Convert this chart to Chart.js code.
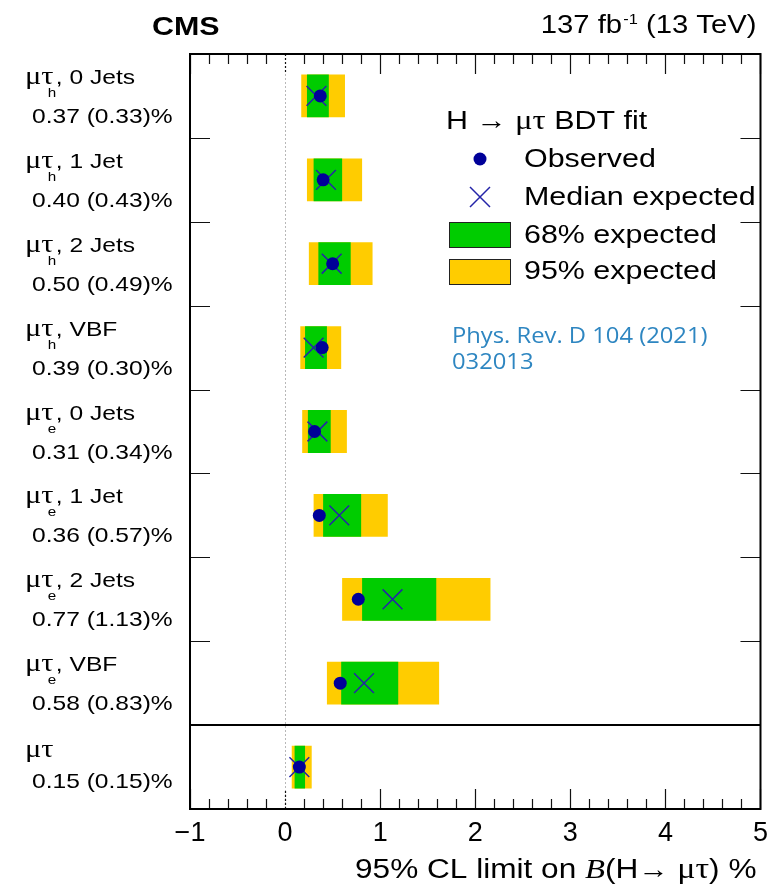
<!DOCTYPE html>
<html>
<head>
<meta charset="utf-8">
<title>H → μτ 95% CL limits</title>
<script src="https://cdn.jsdelivr.net/npm/chart.js@4.4.1/dist/chart.umd.min.js"></script>
<style>
  html, body { margin: 0; padding: 0; background: #fff; }
  #wrap { width: 776px; height: 884px; position: relative; }
</style>
</head>
<body>
<div id="wrap"><canvas id="limits" width="776" height="884"></canvas></div>
<script>
// ---- data ----------------------------------------------------------------
// Channel naming: tau decay mode (subscript) and jet category
const channelTau    = ['h', 'h', 'h', 'h', 'e', 'e', 'e', 'e', ''];
const channelJets   = [', 0 Jets', ', 1 Jet', ', 2 Jets', ', VBF', ', 0 Jets', ', 1 Jet', ', 2 Jets', ', VBF', ''];
// 95% CL upper limits on B(H -> mu tau) in %
const observed  = [0.37, 0.40, 0.50, 0.39, 0.31, 0.36, 0.77, 0.58, 0.15];
const expected  = [0.33, 0.43, 0.49, 0.30, 0.34, 0.57, 1.13, 0.83, 0.15];
const band68Lo  = [0.23, 0.30, 0.35, 0.21, 0.24, 0.40, 0.81, 0.59, 0.10];
const band68Hi  = [0.46, 0.60, 0.69, 0.44, 0.48, 0.80, 1.59, 1.19, 0.21];
const band95Lo  = [0.17, 0.23, 0.25, 0.16, 0.18, 0.30, 0.60, 0.44, 0.07];
const band95Hi  = [0.63, 0.81, 0.92, 0.59, 0.65, 1.08, 2.16, 1.62, 0.28];
const xTickValues = [-1, 0, 1, 2, 3, 4, 5];

const rowKeys = channelTau.map((t, i) => 'μτ' + (t ? '_' + t : '') + channelJets[i]);

// ---- styling -------------------------------------------------------------
const SANS = '"Liberation Sans", Arial, Helvetica, sans-serif';
const SERIF = '"Liberation Serif", "Times New Roman", serif';
const STRETCH = 1.17;           // horizontal text stretch of the figure
const COL_GREEN = '#00cc00';
const COL_YELLOW = '#ffcc00';
const COL_OBS = '#000099';
const COL_EXP = '#2424a8';

// draw a row of text runs (mixed fonts, sub/superscripts) with a horizontal stretch
function drawRuns(ctx, runs, x, y, align, sx) {
  sx = sx || STRETCH;
  ctx.save();
  let total = 0;
  const placed = runs.map(r => {
    ctx.font = r.font;
    const w = ctx.measureText(r.text).width;
    const pos = total + (r.dx || 0);
    if (r.advance !== false) total = pos + w;
    return { r, pos };
  });
  const x0 = align === 'right' ? x - total * sx : x;
  ctx.translate(x0, y);
  ctx.scale(sx, 1);
  ctx.textBaseline = 'alphabetic';
  ctx.textAlign = 'left';
  placed.forEach(({ r, pos }) => {
    ctx.font = r.font;
    ctx.fillStyle = r.color || '#000';
    ctx.fillText(r.text, pos, r.dy || 0);
  });
  ctx.restore();
}

const decorPlugin = {
  id: 'cmsDecor',
  beforeDatasetsDraw(chart) {
    const { ctx, chartArea: a, scales: { x } } = chart;
    const x0 = x.getPixelForValue(0);
    ctx.save();
    ctx.strokeStyle = '#b8b8b8';
    ctx.lineWidth = 1;
    ctx.setLineDash([2, 2]);
    ctx.beginPath();
    ctx.moveTo(Math.round(x0) + 0.5, a.top);
    ctx.lineTo(Math.round(x0) + 0.5, a.bottom);
    ctx.stroke();
    ctx.restore();
  },
  afterDatasetsDraw(chart) {
    const { ctx, chartArea: a, scales: { x, y } } = chart;
    ctx.save();
    // x ticks (top and bottom, pointing inward)
    ctx.strokeStyle = '#111';
    ctx.lineWidth = 1.2;
    for (let k = 0; k <= 30; k++) {
      const v = -1 + k * 0.2;
      const px = Math.round(x.getPixelForValue(v)) + 0.5;
      const major = k % 5 === 0;
      const len = major ? 20 : 10;
      ctx.setLineDash(major && Math.abs(v) < 1e-9 ? [2, 2] : []);
      ctx.beginPath();
      ctx.moveTo(px, a.top); ctx.lineTo(px, a.top + len);
      ctx.moveTo(px, a.bottom); ctx.lineTo(px, a.bottom - len);
      ctx.stroke();
    }
    ctx.setLineDash([]);
    // y ticks at category boundaries
    const n = rowKeys.length;
    const step = y.getPixelForValue(1) - y.getPixelForValue(0);
    for (let i = 0; i < n - 1; i++) {
      const py = Math.round(y.getPixelForValue(i) + step / 2) + 0.5;
      ctx.beginPath();
      ctx.moveTo(a.left, py); ctx.lineTo(a.left + 20, py);
      ctx.moveTo(a.right, py); ctx.lineTo(a.right - 20, py);
      ctx.stroke();
    }
    // separator between categories and the combination
    const sep = Math.round(y.getPixelForValue(n - 2) + step / 2);
    ctx.lineWidth = 2;
    ctx.strokeStyle = '#000';
    ctx.beginPath();
    ctx.moveTo(a.left, sep); ctx.lineTo(a.right, sep);
    ctx.stroke();
    // frame
    ctx.strokeRect(a.left, a.top, a.right - a.left, a.bottom - a.top);
    ctx.restore();
  },
  afterDraw(chart) {
    const { ctx, chartArea: a, scales: { y } } = chart;
    const n = rowKeys.length;

    // header
    drawRuns(ctx, [{ text: 'CMS', font: 'bold 26px ' + SANS }], 152, 35);
    drawRuns(ctx, [
      { text: '137 fb', font: '25px ' + SANS },
      { text: '-1', font: '14px ' + SANS, dy: -9, dx: 1 },
      { text: ' (13 TeV)', font: '25px ' + SANS }
    ], a.right - 4, 33, 'right');

    // category labels with the observed (expected) limits
    for (let i = 0; i < n; i++) {
      const c = y.getPixelForValue(i);
      const combined = i === n - 1;
      const line1 = [{ text: 'μτ', font: '26px ' + SERIF }];
      if (channelTau[i]) {
        line1.push({ text: channelTau[i], font: '13px ' + SANS, dy: 13, dx: -5, advance: false });
        line1.push({ text: channelJets[i], font: '21px ' + SANS, dx: 2 });
      }
      drawRuns(ctx, line1, 25, c + (combined ? -10 : -12));
      const line2 = observed[i].toFixed(2) + ' (' + expected[i].toFixed(2) + ')%';
      drawRuns(ctx, [{ text: line2, font: '21px ' + SANS }], 32, c + (combined ? 21 : 27));
    }

    // axis title
    drawRuns(ctx, [
      { text: '95% CL limit on ', font: '27px ' + SANS },
      { text: 'B', font: 'italic 28px ' + SERIF },
      { text: '(H', font: '27px ' + SANS },
      { text: '→', font: '26px ' + SANS },
      { text: ' μτ', font: '29px ' + SERIF },
      { text: ') %', font: '27px ' + SANS }
    ], a.right - 4, 878, 'right');

    // legend
    ctx.save();
    drawRuns(ctx, [
      { text: 'H ', font: '26px ' + SANS },
      { text: '→', font: '26px ' + SANS },
      { text: ' μτ', font: '28px ' + SERIF },
      { text: ' BDT fit', font: '26px ' + SANS }
    ], 446, 129);
    ctx.fillStyle = COL_OBS;
    ctx.beginPath(); ctx.arc(480, 159, 6.5, 0, Math.PI * 2); ctx.fill();
    drawRuns(ctx, [{ text: 'Observed', font: '26px ' + SANS }], 524, 167);
    ctx.strokeStyle = COL_EXP; ctx.lineWidth = 1.5;
    ctx.beginPath();
    ctx.moveTo(470, 187); ctx.lineTo(490, 207);
    ctx.moveTo(490, 187); ctx.lineTo(470, 207);
    ctx.stroke();
    drawRuns(ctx, [{ text: 'Median expected', font: '26px ' + SANS }], 524, 205);
    ctx.lineWidth = 1; ctx.strokeStyle = '#222';
    ctx.fillStyle = COL_GREEN; ctx.fillRect(449, 222, 62, 26); ctx.strokeRect(449.5, 222.5, 61, 25);
    drawRuns(ctx, [{ text: '68% expected', font: '26px ' + SANS }], 524, 243);
    ctx.fillStyle = COL_YELLOW; ctx.fillRect(449, 259, 62, 26); ctx.strokeRect(449.5, 259.5, 61, 25);
    drawRuns(ctx, [{ text: '95% expected', font: '26px ' + SANS }], 524, 279);
    ctx.restore();

    // publication reference
    const ref = '"Open Sans", "Noto Sans", sans-serif';
    drawRuns(ctx, [{ text: 'Phys. Rev. D 104 (2021)', font: '22px ' + ref, color: '#2e86c1' }], 452, 343, 'left', 1.08);
    drawRuns(ctx, [{ text: '032013', font: '22px ' + ref, color: '#2e86c1' }], 452, 369, 'left', 1.08);
  }
};

new Chart(document.getElementById('limits'), {
  type: 'bar',
  data: {
    labels: rowKeys,
    datasets: [
      {
        type: 'line', label: 'Observed', indexAxis: 'y', showLine: false, order: 0,
        data: observed.map((v, i) => ({ x: v, y: rowKeys[i] })),
        pointStyle: 'circle', pointRadius: 6.5, pointBorderWidth: 0,
        pointBackgroundColor: COL_OBS, pointBorderColor: COL_OBS
      },
      {
        type: 'line', label: 'Median expected', indexAxis: 'y', showLine: false, order: 1,
        data: expected.map((v, i) => ({ x: v, y: rowKeys[i] })),
        pointStyle: 'crossRot', pointRadius: 14, pointBorderWidth: 1.5,
        pointBorderColor: COL_EXP, pointBackgroundColor: COL_EXP
      },
      {
        label: '68% expected', order: 2, grouped: false,
        data: band68Lo.map((lo, i) => [lo, band68Hi[i]]),
        backgroundColor: COL_GREEN, borderWidth: 0,
        categoryPercentage: 1, barPercentage: 0.51
      },
      {
        label: '95% expected', order: 3, grouped: false,
        data: band95Lo.map((lo, i) => [lo, band95Hi[i]]),
        backgroundColor: COL_YELLOW, borderWidth: 0,
        categoryPercentage: 1, barPercentage: 0.51
      }
    ]
  },
  options: {
    indexAxis: 'y',
    responsive: false,
    maintainAspectRatio: false,
    animation: false,
    events: [],
    layout: { padding: { left: 0, right: 14, top: 54, bottom: 0 } },
    plugins: { legend: { display: false }, tooltip: { enabled: false } },
    scales: {
      x: {
        type: 'linear', position: 'bottom', min: -1, max: 5,
        afterBuildTicks: s => { s.ticks = xTickValues.map(v => ({ value: v })); },
        afterFit: s => { s.height = 75; },
        ticks: {
          autoSkip: false, maxRotation: 0, padding: 8, color: '#000',
          font: { family: SANS, size: 27 },
          callback: v => (v < 0 ? '\u2212' + Math.abs(v) : String(v))
        },
        grid: { display: false, drawTicks: false },
        border: { display: false }
      },
      y: {
        type: 'category', position: 'left', offset: true,
        afterFit: s => { s.width = 190; },
        ticks: { display: false },
        grid: { display: false, drawTicks: false },
        border: { display: false }
      }
    }
  },
  plugins: [decorPlugin]
});
</script>
</body>
</html>
